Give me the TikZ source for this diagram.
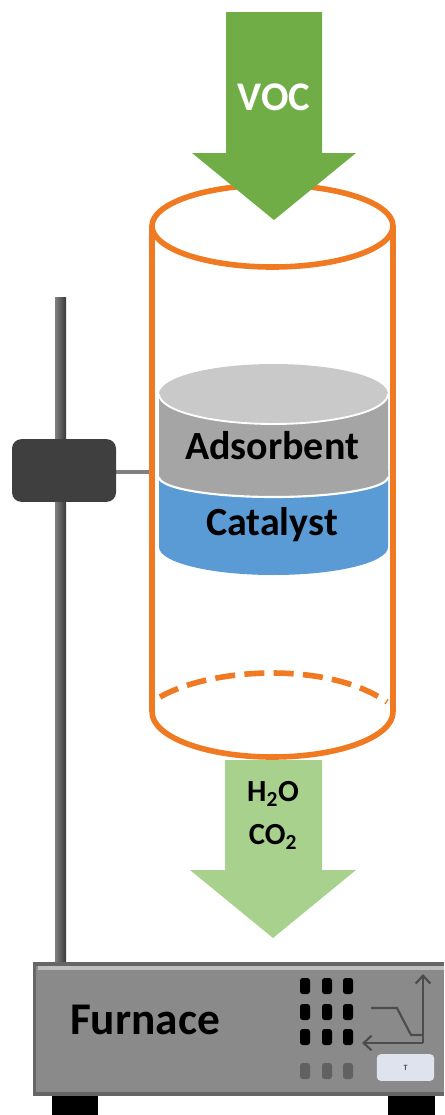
\documentclass[tikz,border=0pt]{standalone}
\usepackage{fontspec}
\usetikzlibrary{arrows.meta}
\setmainfont{Carlito}
\definecolor{cylorange}{HTML}{EF7A22}
\definecolor{arrowdark}{HTML}{70AD47}
\definecolor{arrowlight}{HTML}{A9D18E}
\definecolor{adsgray}{HTML}{A5A5A5}
\definecolor{adstop}{HTML}{C9C9C9}
\definecolor{catblue}{HTML}{5B9BD5}
\definecolor{clampgray}{HTML}{3F3F3F}
\definecolor{panelblue}{HTML}{DEE3EE}
\tikzset{
  label text/.style={font=\bfseries\fontsize{30}{32}\selectfont,text=black,inner sep=0pt},
  small text/.style={font=\bfseries\fontsize{23}{25}\selectfont,text=black,inner sep=0pt},
  key/.style={fill=black,rounded corners=2pt,minimum width=7.5pt,minimum height=12pt,inner sep=0pt},
  greykey/.style={key,fill=black!62},
  cyl/.style={draw=cylorange,line width=4.2pt},
  graphline/.style={draw=black!70,line width=1.6pt},
}
\begin{document}
\begin{tikzpicture}[x=0.75pt,y=-0.75pt]
\useasboundingbox (0,0) rectangle (444,1115);
% stand
\fill[left color=black!50,right color=black!78] (55,297) rectangle (66,964);
\draw[black!50,line width=2.4pt] (116,472) -- (152,472);
\node[fill=clampgray,rounded corners=7pt,minimum width=78pt,minimum height=47pt,inner sep=0pt] (clamp) at (64,470.5) {};
% bed
\fill[catblue] (159,470) -- (159,547) arc[start angle=180,end angle=0,x radius=114.5,y radius=28] -- (388,470) -- cycle;
\fill[adsgray] (159,395) -- (159,477) arc[start angle=180,end angle=0,x radius=114.5,y radius=20] -- (388,395) -- cycle;
\draw[white,line width=1.6pt] (159,477) arc[start angle=180,end angle=0,x radius=114.5,y radius=20];
\fill[adstop] (273.5,394) ellipse[x radius=114.5,y radius=30];
\draw[white,line width=1.4pt] (159,394) arc[start angle=180,end angle=0,x radius=114.5,y radius=30];
\node[label text] (ads) at (272,446) {Adsorbent};
\node[label text] (cat) at (272,525) {Catalyst};
% cylinder
\draw[cyl] (272.5,226) ellipse[x radius=120.5,y radius=41];
\draw[cyl] (152,226) -- (152,712);
\draw[cyl] (393,226) -- (393,712);
\draw[cyl] (152,712) arc[start angle=180,end angle=0,x radius=120.5,y radius=45];
\draw[cyl,dash pattern=on 15pt off 7pt] (160,697) .. controls (190,680) and (235,673) .. (272,673) .. controls (310,673) and (355,680) .. (387,702);
% inlet arrow
\fill[arrowdark] (226,12) -- (322,12) -- (322,153) -- (356,153) -- (274,220) -- (192,153) -- (226,153) -- cycle;
\node[font=\bfseries\fontsize{30.5}{32}\selectfont,text=white,inner sep=0pt] (voc) at (274,97) {VOC};
% outlet arrow
\fill[arrowlight] (225,760) -- (322,760) -- (322,870) -- (356,870) -- (273,938) -- (190,870) -- (225,870) -- cycle;
\node[small text] (water) at (273,794) {H\textsubscript{2}O};
\node[small text] (co2) at (273,837) {CO\textsubscript{2}};
% feet
\fill[black] (52,1092) rectangle (98,1115);
\fill[black] (388,1092) rectangle (435,1115);
% furnace
\fill[black!60] (33,962) rectangle (444,1096);
\fill[black!46] (36,966) rectangle (444,1092);
\fill[black!25] (38,966) rectangle (444,970);
\node[font=\bfseries\fontsize{34}{36}\selectfont,text=black,inner sep=0pt] (furn) at (145,1020) {Furnace};
\foreach \r/\y in {a/986,b/1012,c/1037}{
  \node[key] (k1\r) at (305,\y) {};
  \node[key] (k2\r) at (327,\y) {};
  \node[key] (k3\r) at (348,\y) {};
}
\node[greykey] (g1) at (305,1071) {};
\node[greykey] (g2) at (327,1071) {};
\node[greykey] (g3) at (348,1071) {};
\node[fill=panelblue,rounded corners=3pt,minimum width=43pt,minimum height=20pt,inner sep=0pt,font=\bfseries\fontsize{6}{6}\selectfont,text=black!70] (panel) at (405.5,1067.5) {T};
% graph
\coordinate (org) at (423,1043);
\coordinate (ytip) at (423,974);
\coordinate (xtip) at (362,1043);
\draw[graphline,-{Straight Barb[length=6pt,width=11pt]}] (org) -- (ytip);
\draw[graphline,-{Straight Barb[length=6pt,width=11pt]}] (org) -- (xtip);
\draw[graphline] (371,1008) -- (397,1008) -- (411,1035) -- (423,1035);
\end{tikzpicture}
\end{document}
